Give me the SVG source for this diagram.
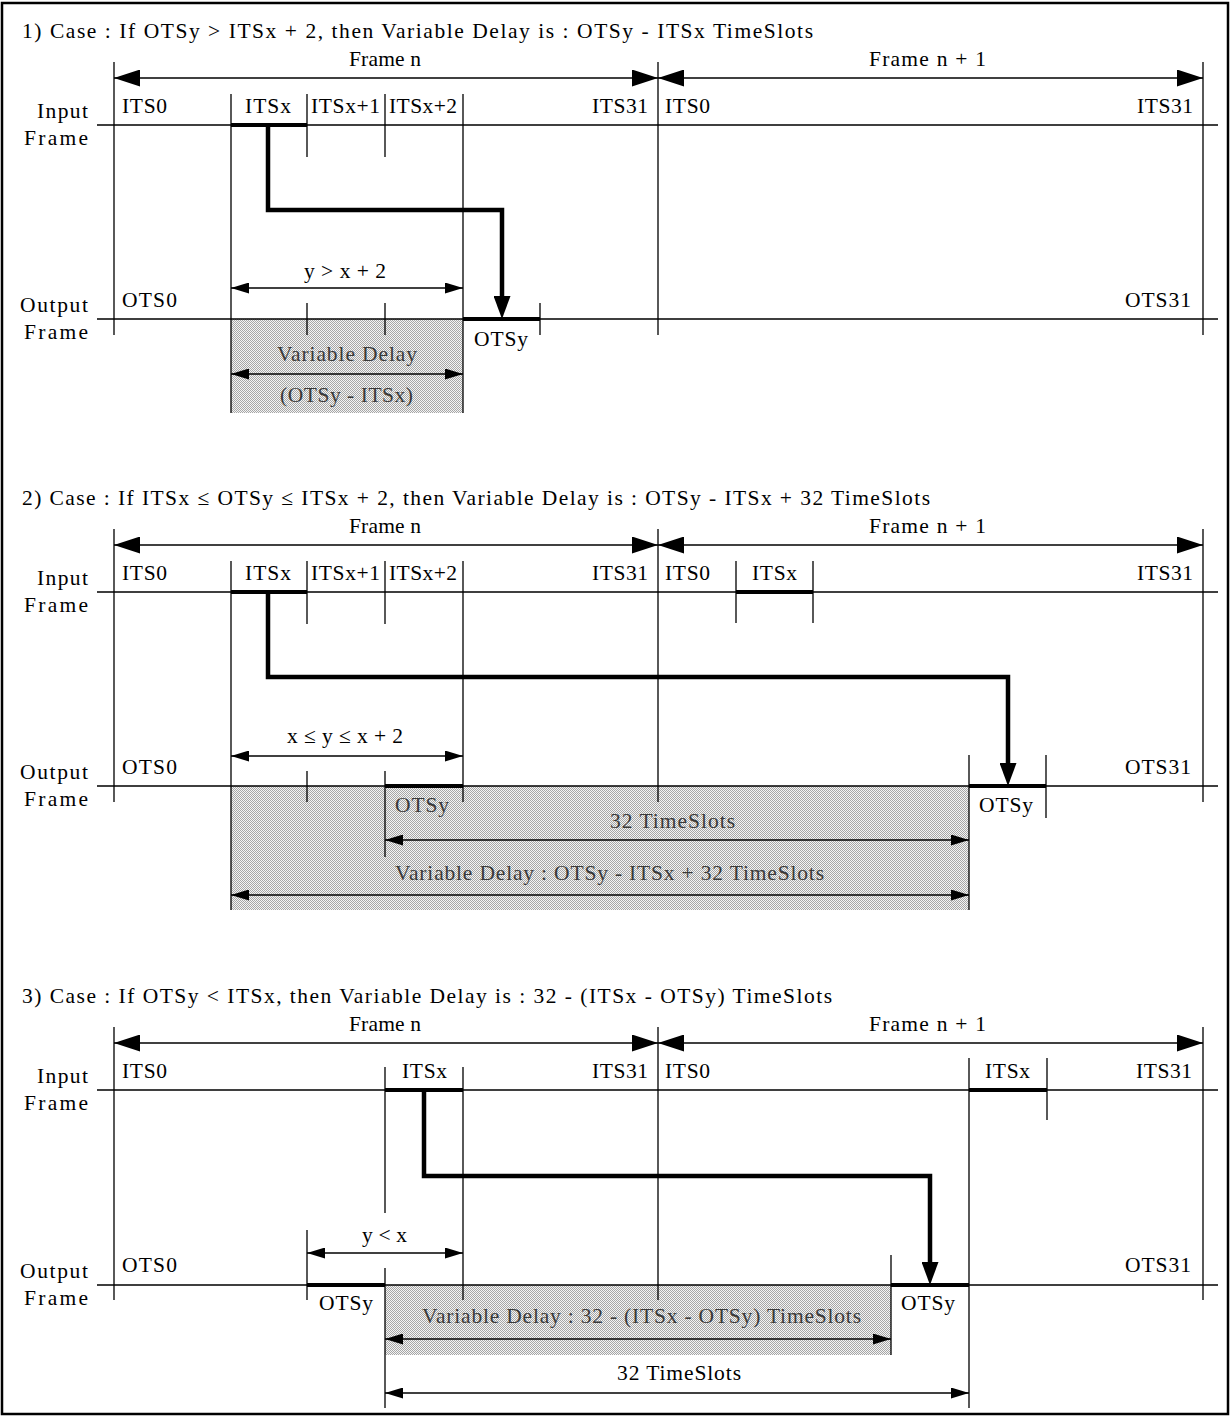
<svg xmlns="http://www.w3.org/2000/svg" width="1231" height="1416" viewBox="0 0 1231 1416">
<style>
.t{font-family:"Liberation Serif","Times New Roman",serif;font-size:21.5px;fill:#000}
.s{fill:#3a3a3a}
.ln{stroke:#000;stroke-width:1.3;fill:none}
.thick{stroke:#000;stroke-width:4;fill:none}
.fr{stroke:#000;stroke-width:1.5;fill:none}
.dm{stroke:#000;stroke-width:1.3;fill:none}
.conn{stroke:#000;stroke-width:4.5;fill:none;stroke-linejoin:miter}
</style>
<defs>
<marker id="fa" markerUnits="userSpaceOnUse" markerWidth="26" markerHeight="17" refX="26" refY="8.5" orient="auto-start-reverse"><path d="M0,0 L26,8.5 L0,17 Z" fill="#000"/></marker>
<marker id="da" markerUnits="userSpaceOnUse" markerWidth="18" markerHeight="11" refX="18" refY="5.5" orient="auto-start-reverse"><path d="M0,0 L18,5.5 L0,11 Z" fill="#000"/></marker>
<marker id="ca" markerUnits="userSpaceOnUse" markerWidth="23" markerHeight="17" refX="2" refY="8.5" orient="auto"><path d="M0,0 L23,8.5 L0,17 Z" fill="#000"/></marker>
<pattern id="dots" width="2" height="2" patternUnits="userSpaceOnUse"><rect width="2" height="2" fill="#f4f4f4"/><rect width="1" height="1" fill="#a6a6a6"/><rect x="1" y="1" width="1" height="1" fill="#a6a6a6"/></pattern>
</defs>
<rect x="2" y="3" width="1226" height="1411" fill="#fff" stroke="#000" stroke-width="2.5"/>

<!-- Section 1 -->
<g id="case1">
<rect x="231" y="319" width="232" height="94" fill="url(#dots)"/>
<text class="t" x="22" y="38" textLength="791">1) Case  :  If OTSy &gt; ITSx + 2, then Variable Delay is  :  OTSy - ITSx TimeSlots</text>
<text class="t" x="349" y="66" textLength="72">Frame n</text>
<text class="t" x="869" y="66" textLength="117">Frame n + 1</text>
<text class="t" x="37" y="118" textLength="51">Input</text>
<text class="t" x="24" y="145" textLength="64">Frame</text>
<text class="t" x="20" y="312" textLength="68">Output</text>
<text class="t" x="24" y="339" textLength="64">Frame</text>
<text class="t" x="122" y="113" textLength="45">ITS0</text>
<text class="t" x="245" y="113" textLength="46">ITSx</text>
<text class="t" x="311" y="113" textLength="69">ITSx+1</text>
<text class="t" x="389" y="113" textLength="68">ITSx+2</text>
<text class="t" x="592" y="113" textLength="56">ITS31</text>
<text class="t" x="665" y="113" textLength="45">ITS0</text>
<text class="t" x="1137" y="113" textLength="56">ITS31</text>
<text class="t" x="122" y="307" textLength="55">OTS0</text>
<text class="t" x="1125" y="307" textLength="66">OTS31</text>
<text class="t" x="304" y="278" textLength="82">y &gt; x + 2</text>
<text class="t" x="474" y="346" textLength="54">OTSy</text>
<text class="t s" x="277" y="361" textLength="140">Variable Delay</text>
<text class="t s" x="280" y="402" textLength="133">(OTSy - ITSx)</text>
<path class="dm" d="M231,374 H463" marker-start="url(#da)" marker-end="url(#da)"/>
<path class="ln" d="M97,125 H1218 M97,319 H1218 M114,62 V335 M658,62 V335 M1203,62 V335 M231,94 V413 M463,94 V413 M307,94 V157 M385,94 V157 M307,303 V335 M385,303 V335 M540,303 V335"/>
<path class="thick" d="M231,125 H307 M463,319 H540"/>
<path class="fr" d="M114,78 H658" marker-start="url(#fa)" marker-end="url(#fa)"/>
<path class="fr" d="M658,78 H1203" marker-start="url(#fa)" marker-end="url(#fa)"/>
<path class="dm" d="M231,288 H463" marker-start="url(#da)" marker-end="url(#da)"/>
</g>

<!-- Section 2 -->
<g id="case2">
<rect x="231" y="786" width="738" height="124" fill="url(#dots)"/>
<text class="t" x="22" y="505" textLength="908">2) Case  :  If ITSx ≤ OTSy ≤ ITSx + 2, then Variable Delay is  :  OTSy - ITSx + 32 TimeSlots</text>
<text class="t" x="349" y="533" textLength="72">Frame n</text>
<text class="t" x="869" y="533" textLength="117">Frame n + 1</text>
<text class="t" x="37" y="585" textLength="51">Input</text>
<text class="t" x="24" y="612" textLength="64">Frame</text>
<text class="t" x="20" y="779" textLength="68">Output</text>
<text class="t" x="24" y="806" textLength="64">Frame</text>
<text class="t" x="122" y="580" textLength="45">ITS0</text>
<text class="t" x="245" y="580" textLength="46">ITSx</text>
<text class="t" x="311" y="580" textLength="69">ITSx+1</text>
<text class="t" x="389" y="580" textLength="68">ITSx+2</text>
<text class="t" x="592" y="580" textLength="56">ITS31</text>
<text class="t" x="665" y="580" textLength="45">ITS0</text>
<text class="t" x="752" y="580" textLength="45">ITSx</text>
<text class="t" x="1137" y="580" textLength="56">ITS31</text>
<text class="t" x="122" y="774" textLength="55">OTS0</text>
<text class="t" x="1125" y="774" textLength="66">OTS31</text>
<text class="t" x="287" y="743" textLength="116">x ≤ y ≤ x + 2</text>
<text class="t" x="979" y="812" textLength="54">OTSy</text>
<text class="t s" x="395" y="812" textLength="54">OTSy</text>
<text class="t s" x="610" y="828" textLength="125">32 TimeSlots</text>
<text class="t s" x="395" y="880" textLength="429">Variable Delay : OTSy - ITSx + 32 TimeSlots</text>
<path class="dm" d="M385,840 H969" marker-start="url(#da)" marker-end="url(#da)"/>
<path class="dm" d="M231,895 H969" marker-start="url(#da)" marker-end="url(#da)"/>
<path class="ln" d="M97,592 H1218 M97,786 H1218 M114,529 V802 M658,529 V802 M1203,529 V802 M231,561 V910 M463,561 V802 M307,561 V624 M385,561 V624 M736,561 V623 M813,561 V623 M307,771 V802 M385,771 V857 M969,755 V910 M1046,755 V818"/>
<path class="thick" d="M231,592 H307 M736,592 H813 M385,786 H463 M969,786 H1046"/>
<path class="fr" d="M114,545 H658" marker-start="url(#fa)" marker-end="url(#fa)"/>
<path class="fr" d="M658,545 H1203" marker-start="url(#fa)" marker-end="url(#fa)"/>
<path class="dm" d="M231,756 H463" marker-start="url(#da)" marker-end="url(#da)"/>
</g>

<!-- Section 3 -->
<g id="case3">
<rect x="385" y="1285" width="506" height="70" fill="url(#dots)"/>
<text class="t" x="22" y="1003" textLength="810">3) Case  :  If OTSy &lt; ITSx, then Variable Delay is  :  32 - (ITSx - OTSy) TimeSlots</text>
<text class="t" x="349" y="1031" textLength="72">Frame n</text>
<text class="t" x="869" y="1031" textLength="117">Frame n + 1</text>
<text class="t" x="37" y="1083" textLength="51">Input</text>
<text class="t" x="24" y="1110" textLength="64">Frame</text>
<text class="t" x="20" y="1278" textLength="68">Output</text>
<text class="t" x="24" y="1305" textLength="64">Frame</text>
<text class="t" x="122" y="1078" textLength="45">ITS0</text>
<text class="t" x="402" y="1078" textLength="45">ITSx</text>
<text class="t" x="592" y="1078" textLength="56">ITS31</text>
<text class="t" x="665" y="1078" textLength="45">ITS0</text>
<text class="t" x="985" y="1078" textLength="45">ITSx</text>
<text class="t" x="1136" y="1078" textLength="56">ITS31</text>
<text class="t" x="122" y="1272" textLength="55">OTS0</text>
<text class="t" x="1125" y="1272" textLength="66">OTS31</text>
<text class="t" x="362" y="1242" textLength="45">y &lt; x</text>
<text class="t" x="319" y="1310" textLength="54">OTSy</text>
<text class="t" x="901" y="1310" textLength="54">OTSy</text>
<text class="t s" x="422" y="1323" textLength="439">Variable Delay : 32 - (ITSx - OTSy) TimeSlots</text>
<text class="t" x="617" y="1380" textLength="124">32 TimeSlots</text>
<path class="dm" d="M385,1339 H891" marker-start="url(#da)" marker-end="url(#da)"/>
<path class="ln" d="M97,1090 H1218 M97,1285 H1218 M114,1027 V1300 M658,1027 V1300 M1203,1027 V1300 M385,1067 V1213 M463,1067 V1300 M969,1058 V1408 M1047,1058 V1120 M307,1230 V1300 M385,1268 V1408 M891,1255 V1355"/>
<path class="thick" d="M385,1090 H463 M969,1090 H1047 M307,1285 H385 M891,1285 H969"/>
<path class="fr" d="M114,1043 H658" marker-start="url(#fa)" marker-end="url(#fa)"/>
<path class="fr" d="M658,1043 H1203" marker-start="url(#fa)" marker-end="url(#fa)"/>
<path class="dm" d="M307,1253 H463" marker-start="url(#da)" marker-end="url(#da)"/>
<path class="dm" d="M385,1393 H969" marker-start="url(#da)" marker-end="url(#da)"/>
</g>

<g id="connectors">
<path class="conn" d="M268,125 V210 H502 V298" marker-end="url(#ca)"/>
<path class="conn" d="M268,592 V677 H1008 V765" marker-end="url(#ca)"/>
<path class="conn" d="M424,1090 V1176 H930 V1264" marker-end="url(#ca)"/>
</g>
</svg>
